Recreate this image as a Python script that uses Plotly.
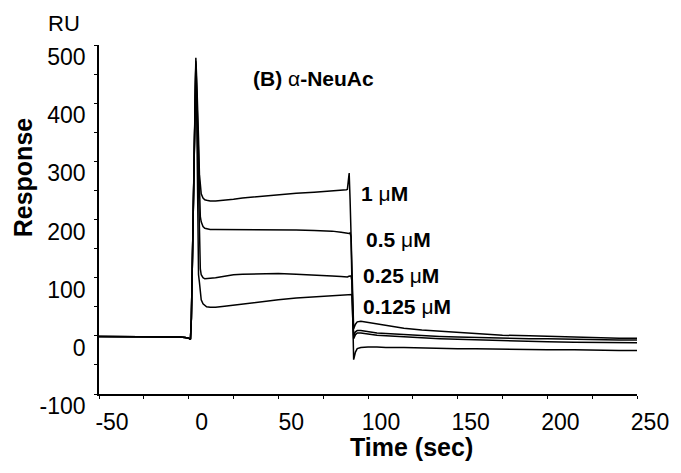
import plotly.graph_objects as go

# Sensorgram time axis (s) shared by all four injections
time_s = [-50, -40, -30, -20, -10, -5, -2, 0, 1, 1.5, 2, 2.5, 3, 3.5, 4, 4.5, 5, 5.5,
          6, 6.5, 7, 8, 9, 10, 12, 15, 20, 25, 30, 40, 50, 60, 70, 80, 85, 88, 88.5,
          89, 89.5, 90, 90.5, 91, 91.5, 92, 93, 94, 96, 98, 100, 105, 110, 120, 130,
          140, 150, 160, 175, 190, 200, 215, 230, 240, 250]

# Response units for each analyte concentration
resp_1um = [-1, -1, -1, -2, -2, -2, -3, -4, -6, 30, 114, 200, 287, 374, 478, 440, 400, 340,
            278, 255, 244, 237, 234, 233, 232, 232, 233, 235, 237, 240, 243, 245, 247, 249, 250, 251, 252,
            262, 280, 235, 170, 100, 30, 12, 20, 24, 25, 24, 23, 20, 17, 13, 10,
            8, 5, 3, 1, 0, -1, -2, -3, -4, -4]
resp_05um = [-1, -1, -1, -2, -2, -2, -3, -4, -6, 30, 114, 200, 287, 374, 472, 420, 360, 290,
             230, 205, 196, 188, 185, 184, 183, 183, 183, 183, 183, 183, 183, 182, 181, 180, 178, 176, 176,
             176, 176, 177, 170, 100, 30, 0, 7, 9, 9, 8, 7, 5, 4, 2, 1,
             -1, -2, -3, -4, -5, -5, -6, -7, -7, -7]
resp_025um = [-1, -1, -1, -2, -2, -2, -3, -4, -6, 30, 114, 200, 287, 374, 468, 400, 320, 220,
              150, 115, 105, 100, 98, 98, 99, 100, 103, 105, 106, 107, 107, 106, 105, 103, 102, 101, 101,
              102, 103, 103, 103, 95, 30, -5, 2, 5, 5, 4, 3, 1, 0, -2, -3,
              -5, -6, -7, -8, -9, -10, -11, -11, -12, -12]
resp_0125um = [-1, -1, -1, -2, -2, -2, -3, -4, -6, 30, 114, 200, 287, 374, 465, 380, 250, 105,
               92, 75, 62, 55, 52, 50, 49, 49, 51, 53, 55, 59, 62, 65, 67, 69, 70, 70, 70,
               71, 71, 71, 71, 71, 30, -41, -28, -22, -20, -19, -19, -19, -20, -20, -21,
               -21, -22, -22, -23, -23, -24, -24, -25, -25, -25]

series = [resp_1um, resp_05um, resp_025um, resp_0125um]

# Concentration labels: text, x (s), y (RU)
conc_labels = ["1 ", "0.5 ", "0.25 ", "0.125 "]
conc_label_x = [95, 97.8, 96.1, 96.1]
conc_label_y = [245, 165, 103, 50]

x_ticks = [-50, 0, 50, 100, 150, 200, 250]
y_ticks = [-100, 0, 100, 200, 300, 400, 500]

FONT = "Liberation Sans, Arial, Helvetica, sans-serif"
W, H = 681, 473
ML, MR, MT, MB = 99, 42, 45, 79


def px_x(px):
    return (px - ML) / (W - ML - MR)


def px_y(py):
    return (H - MB - py) / (H - MT - MB)


fig = go.Figure()
for ys in series:
    fig.add_trace(go.Scatter(x=time_s, y=ys, mode="lines",
                             line=dict(color="black", width=1.5),
                             showlegend=False, hoverinfo="skip"))

annotations = []
for txt, lx, ly in zip(conc_labels, conc_label_x, conc_label_y):
    annotations.append(dict(x=lx, y=ly, xref="x", yref="y", xanchor="left", yanchor="middle",
                            text=f"<b>{txt}</b>μ<b>M</b>", showarrow=False,
                            font=dict(family=FONT, size=21, color="black")))

annotations += [
    dict(x=px_x(252), y=px_y(78), xref="paper", yref="paper", xanchor="left", yanchor="middle",
         text="<b>(B) </b>α<b>-NeuAc</b>", showarrow=False,
         font=dict(family=FONT, size=21, color="black")),
    dict(x=px_x(64), y=px_y(24), xref="paper", yref="paper", xanchor="center", yanchor="middle",
         text="RU", showarrow=False, font=dict(family=FONT, size=22, color="black")),
    dict(x=px_x(23), y=px_y(177), xref="paper", yref="paper", xanchor="center", yanchor="middle",
         text="<b>Response</b>", textangle=-90, showarrow=False,
         font=dict(family=FONT, size=25, color="black")),
    dict(x=px_x(413), y=px_y(447), xref="paper", yref="paper", xanchor="center", yanchor="middle",
         text="<b>Time (sec)</b>", showarrow=False,
         font=dict(family=FONT, size=25, color="black")),
]

fig.update_layout(
    width=W, height=H,
    margin=dict(l=ML, r=MR, t=MT, b=MB, pad=0),
    paper_bgcolor="white", plot_bgcolor="white",
    font=dict(family=FONT, size=23, color="black"),
    annotations=annotations,
)

fig.update_xaxes(range=[-50, 250], tickvals=x_ticks, ticktext=[str(v) for v in x_ticks],
                 showgrid=False, zeroline=False, showline=True, linecolor="black", linewidth=1.5,
                 ticks="outside", ticklen=3, tickcolor="black", tickwidth=1.2,
                 minor=dict(dtick=25, tick0=0, ticks="outside", ticklen=3, tickcolor="black", tickwidth=1.2),
                 ticklabelshift=13, ticklabelstandoff=4,
                 tickfont=dict(family=FONT, size=23, color="black"))

fig.update_yaxes(range=[-100, 500], tickvals=y_ticks, ticktext=[str(v) for v in y_ticks],
                 showgrid=False, zeroline=False, showline=True, linecolor="black", linewidth=1.5,
                 ticks="outside", ticklen=3, tickcolor="black", tickwidth=1.2,
                 minor=dict(dtick=50, tick0=0, ticks="outside", ticklen=3, tickcolor="black", tickwidth=1.2),
                 ticklabelshift=12, ticklabelstandoff=4,
                 tickfont=dict(family=FONT, size=23, color="black"))

fig.write_html("out.html")
